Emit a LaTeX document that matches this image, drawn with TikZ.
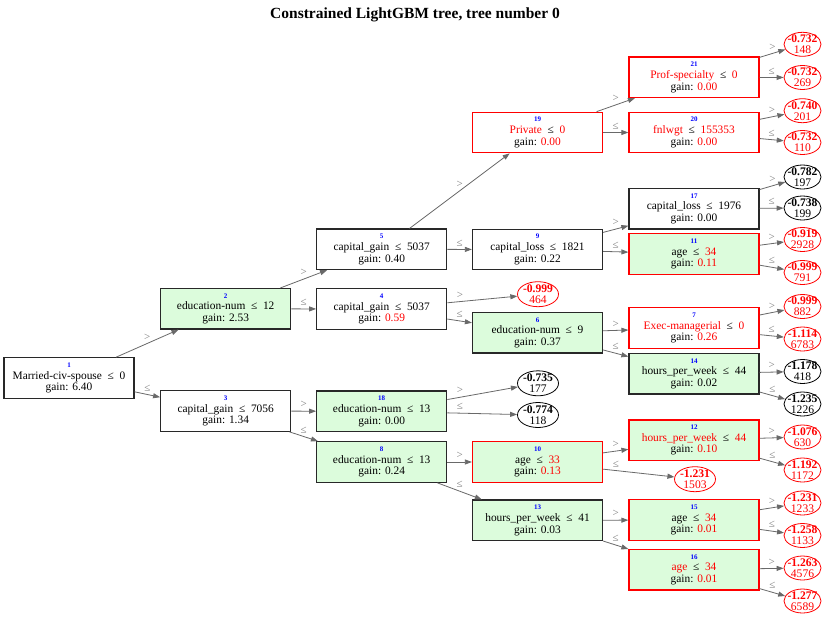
\documentclass[tikz,border=0pt]{standalone}
\usepackage{fontspec}
\setmainfont{Liberation Serif}
\usetikzlibrary{arrows.meta,shapes.geometric}
\definecolor{boxgreen}{RGB}{220,252,220}
\definecolor{boxblack}{RGB}{40,40,40}
\definecolor{edgegray}{RGB}{105,105,105}
\definecolor{idblue}{RGB}{0,0,255}
\newcommand\rd[1]{\textcolor{red}{#1}}
\newcommand\idn[1]{{\fontsize{7}{7}\selectfont\bfseries\textcolor{idblue}{#1}}}
\newcommand\leop{\ \ ≤\ \ }
\tikzset{
  box/.style={draw=boxblack, line width=1.2pt, minimum width=130pt, minimum height=40.5pt,
    inner sep=0pt, align=center, font=\fontsize{11.4}{11.7}\selectfont},
  wbox/.style={box, fill=white},
  gbox/.style={box, fill=boxgreen},
  rwbox/.style={box, draw=red, fill=white},
  rgbox/.style={box, draw=red, fill=boxgreen},
  leaf/.style={ellipse, draw=black, line width=0.8pt, minimum width=37pt, minimum height=24pt,
    inner sep=-5pt, align=center, font=\fontsize{11.6}{11}\selectfont},
  rleaf/.style={leaf, draw=red, text=red},
  wide/.style={minimum width=41pt, minimum height=25pt},
  conn/.style={draw=edgegray, line width=0.8pt, -{Triangle[length=7pt,width=5pt]}},
  elab/.style={font=\fontsize{11}{11}\selectfont, text=edgegray!85, inner sep=0pt, yshift=6.5pt},
}
\begin{document}
\begin{tikzpicture}[x=1pt, y=-1pt]
\useasboundingbox (0,0) rectangle (830,621);
\fill[white] (0,0) rectangle (830,621);
\node[font=\fontsize{15.5}{15.5}\selectfont\bfseries] (title) at (415,15) {Constrained LightGBM tree, tree number 0};

% boxes
\node[wbox] (n1) at (69,378) {\idn{1}\\Married-civ-spouse\leop 0\\gain: 6.40};
\node[gbox] (n2) at (225.7,308.8) {\idn{2}\\education-num\leop 12\\gain: 2.53};
\node[wbox] (n3) at (225.7,411) {\idn{3}\\capital\_gain\leop 7056\\gain: 1.34};
\node[wbox] (n5) at (381.7,249.3) {\idn{5}\\capital\_gain\leop 5037\\gain: 0.40};
\node[wbox] (n4) at (381.7,309) {\idn{4}\\capital\_gain\leop 5037\\gain: \rd{0.59}};
\node[gbox] (n18) at (381.7,411.3) {\idn{18}\\education-num\leop 13\\gain: 0.00};
\node[gbox] (n8) at (381.7,462) {\idn{8}\\education-num\leop 13\\gain: 0.24};
\node[rwbox] (n19) at (537.5,132.5) {\idn{19}\\\rd{Private}\leop \rd{0}\\gain: \rd{0.00}};
\node[wbox] (n9) at (537.5,249.5) {\idn{9}\\capital\_loss\leop 1821\\gain: 0.22};
\node[gbox] (n6) at (537.5,332.8) {\idn{6}\\education-num\leop 9\\gain: 0.37};
\node[rgbox] (n10) at (537.5,462) {\idn{10}\\age\leop \rd{33}\\gain: \rd{0.13}};
\node[gbox] (n13) at (537.5,520.3) {\idn{13}\\hours\_per\_week\leop 41\\gain: 0.03};
\node[rwbox] (n21) at (694,77.3) {\idn{21}\\\rd{Prof-specialty}\leop \rd{0}\\gain: \rd{0.00}};
\node[rwbox] (n20) at (694,132.5) {\idn{20}\\\rd{fnlwgt}\leop \rd{155353}\\gain: \rd{0.00}};
\node[wbox] (n17) at (694,208.7) {\idn{17}\\capital\_loss\leop 1976\\gain: 0.00};
\node[rgbox] (n11) at (694,254) {\idn{11}\\age\leop \rd{34}\\gain: \rd{0.11}};
\node[rwbox] (n7) at (694,328) {\idn{7}\\\rd{Exec-managerial}\leop \rd{0}\\gain: \rd{0.26}};
\node[gbox] (n14) at (694,373.7) {\idn{14}\\hours\_per\_week\leop 44\\gain: 0.02};
\node[rgbox] (n12) at (694,440.2) {\idn{12}\\\rd{hours\_per\_week}\leop \rd{44}\\gain: \rd{0.10}};
\node[rgbox] (n15) at (694,520) {\idn{15}\\age\leop \rd{34}\\gain: \rd{0.01}};
\node[rgbox] (n16) at (694,569.7) {\idn{16}\\\rd{age}\leop \rd{34}\\gain: \rd{0.01}};

% leaves
\node[rleaf] (l148) at (802.5,44.3) {\textbf{-0.732}\\148};
\node[rleaf] (l269) at (802.5,77.5) {\textbf{-0.732}\\269};
\node[rleaf] (l201) at (802.5,110.7) {\textbf{-0.740}\\201};
\node[rleaf] (l110) at (802.5,142.5) {\textbf{-0.732}\\110};
\node[leaf] (l197) at (802.5,177) {\textbf{-0.782}\\197};
\node[leaf] (l199) at (802.5,208) {\textbf{-0.738}\\199};
\node[rleaf] (l2928) at (802.5,239.5) {\textbf{-0.919}\\2928};
\node[rleaf] (l791) at (802.5,272.5) {\textbf{-0.999}\\791};
\node[rleaf] (l882) at (802.5,306.5) {\textbf{-0.999}\\882};
\node[rleaf] (l6783) at (802.5,339) {\textbf{-1.114}\\6783};
\node[leaf] (l418) at (802.5,371.5) {\textbf{-1.178}\\418};
\node[leaf] (l1226) at (802.5,404) {\textbf{-1.235}\\1226};
\node[rleaf] (l630) at (802.5,437) {\textbf{-1.076}\\630};
\node[rleaf] (l1172) at (802.5,470) {\textbf{-1.192}\\1172};
\node[rleaf] (l1233) at (802.5,503) {\textbf{-1.231}\\1233};
\node[rleaf] (l1133) at (802.5,535.5) {\textbf{-1.258}\\1133};
\node[rleaf] (l4576) at (802.5,568) {\textbf{-1.263}\\4576};
\node[rleaf] (l6589) at (802.5,601) {\textbf{-1.277}\\6589};
\node[rleaf, wide] (l464) at (538,294.2) {\textbf{-0.999}\\464};
\node[leaf, wide] (l177) at (538,383.3) {\textbf{-0.735}\\177};
\node[leaf, wide] (l118) at (538,415) {\textbf{-0.774}\\118};
\node[rleaf, wide] (l1503) at (695,479.2) {\textbf{-1.231}\\1503};

% edges
\path[conn] (n1) -- node[elab, midway] {>} (n2);
\path[conn] (n1) -- node[elab, midway] {≤} (n3);
\path[conn] (n2) -- node[elab, midway] {>} (n5);
\path[conn] (n2) -- node[elab, midway] {≤} (n4);
\path[conn] (n3) -- node[elab, midway] {>} (n18);
\path[conn] (n3) -- node[elab, midway] {≤} (n8);
\path[conn] (n5) -- node[elab, midway] {>} (n19);
\path[conn] (n5) -- node[elab, midway] {≤} (n9);
\path[conn] (n4) -- node[elab, pos=0.18] {>} (l464);
\path[conn] (n4) -- node[elab, midway] {≤} (n6);
\path[conn] (n18) -- node[elab, pos=0.18] {>} (l177);
\path[conn] (n18) -- node[elab, pos=0.18] {≤} (l118);
\path[conn] (n8) -- node[elab, midway] {>} (n10);
\path[conn] (n8) -- node[elab, midway] {≤} (n13);
\path[conn] (n19) -- node[elab, midway] {>} (n21);
\path[conn] (n19) -- node[elab, midway] {≤} (n20);
\path[conn] (n9) -- node[elab, midway] {>} (n17);
\path[conn] (n9) -- node[elab, midway] {≤} (n11);
\path[conn] (n6) -- node[elab, midway] {>} (n7);
\path[conn] (n6) -- node[elab, midway] {≤} (n14);
\path[conn] (n10) -- node[elab, midway] {>} (n12);
\path[conn] (n10) -- node[elab, pos=0.18] {≤} (l1503);
\path[conn] (n13) -- node[elab, midway] {>} (n15);
\path[conn] (n13) -- node[elab, midway] {≤} (n16);
\path[conn] (n21) -- node[elab, midway] {>} (l148);
\path[conn] (n21) -- node[elab, midway] {≤} (l269);
\path[conn] (n20) -- node[elab, midway] {>} (l201);
\path[conn] (n20) -- node[elab, midway] {≤} (l110);
\path[conn] (n17) -- node[elab, midway] {>} (l197);
\path[conn] (n17) -- node[elab, midway] {≤} (l199);
\path[conn] (n11) -- node[elab, midway] {>} (l2928);
\path[conn] (n11) -- node[elab, midway] {≤} (l791);
\path[conn] (n7) -- node[elab, midway] {>} (l882);
\path[conn] (n7) -- node[elab, midway] {≤} (l6783);
\path[conn] (n14) -- node[elab, midway] {>} (l418);
\path[conn] (n14) -- node[elab, midway] {≤} (l1226);
\path[conn] (n12) -- node[elab, midway] {>} (l630);
\path[conn] (n12) -- node[elab, midway] {≤} (l1172);
\path[conn] (n15) -- node[elab, midway] {>} (l1233);
\path[conn] (n15) -- node[elab, midway] {≤} (l1133);
\path[conn] (n16) -- node[elab, midway] {>} (l4576);
\path[conn] (n16) -- node[elab, midway] {≤} (l6589);
\end{tikzpicture}
\end{document}
